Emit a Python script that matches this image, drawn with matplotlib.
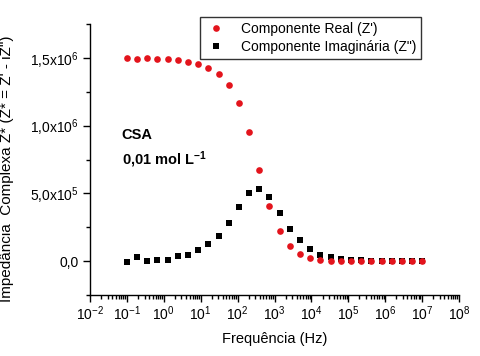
import numpy as np
import matplotlib
matplotlib.use('Agg')
import matplotlib.pyplot as plt
from matplotlib.ticker import FixedLocator, MultipleLocator, LogLocator, NullFormatter

plt.rcParams['font.family'] = ['Liberation Sans', 'DejaVu Sans']
plt.rcParams['mathtext.fontset'] = 'custom'
plt.rcParams['mathtext.rm'] = 'Liberation Sans'
plt.rcParams['mathtext.it'] = 'Liberation Sans:italic'
plt.rcParams['mathtext.bf'] = 'Liberation Sans:bold'

# frequencias (Hz)
freq = [0.1, 0.189, 0.357, 0.673, 1.27, 2.40, 4.53, 8.55, 16.1, 30.5,
        57.5, 108.6, 205, 387, 731, 1380, 2605, 4918, 9284, 17530,
        33090, 62470, 117900, 222700, 420400, 793700, 1.498e6, 2.83e6, 5.34e6, 1.0e7]

# Z' (componente real)
z_real = [1.499e6, 1.494e6, 1.496e6, 1.491e6, 1.491e6, 1.484e6, 1.467e6, 1.454e6, 1.425e6, 1.380e6,
          1.301e6, 1.165e6, 0.950e6, 0.674e6, 0.410e6, 0.222e6, 0.111e6, 52000, 22000, 10000,
          3000, 1000, 500, 0, 0, 0, 0, 0, 0, 0]

# Z'' (componente imaginaria)
z_imag = [-10000, 27000, 0, 5000, 12000, 35000, 44000, 79000, 126000, 183000,
          279000, 398000, 501000, 531000, 472000, 353000, 235000, 153000, 91000, 47000,
          28000, 18000, 6000, 6000, 3000, 0, 0, 0, 0, 0]

yticks = [0, 5e5, 1e6, 1.5e6]
ylabels = ['0,0', '5,0x10$^{5}$', '1,0x10$^{6}$', '1,5x10$^{6}$']

fig = plt.figure(figsize=(4.81, 3.56), dpi=100)
ax = fig.add_axes([0.1871, 0.1713, 0.9543 - 0.1871, 0.9326 - 0.1713])

ax.plot(freq, z_real, 'o', color='#e3141c', markersize=4.8, markeredgewidth=0,
        label="Componente Real (Z')", zorder=3)
ax.plot(freq, z_imag, 's', color='black', markersize=4.5, markeredgewidth=0,
        label='Componente Imaginária (Z")', zorder=2)

ax.set_xscale('log')
ax.set_xlim(1e-2, 1e8)
ax.set_ylim(-2.5e5, 1.75e6)
ax.xaxis.set_major_locator(LogLocator(base=10, numticks=20))
ax.xaxis.set_minor_locator(LogLocator(base=10, subs=np.arange(2, 10), numticks=20))
ax.xaxis.set_minor_formatter(NullFormatter())
ax.yaxis.set_major_locator(FixedLocator(yticks))
ax.set_yticklabels(ylabels)
ax.yaxis.set_minor_locator(MultipleLocator(2.5e5))

for s in ['top', 'right']:
    ax.spines[s].set_visible(False)
ax.spines['left'].set_linewidth(1.0)
ax.spines['bottom'].set_linewidth(1.0)
ax.tick_params(which='major', direction='out', length=5, width=1, labelsize=10, colors='black')
ax.tick_params(which='minor', direction='out', length=3, width=1)
ax.tick_params(axis='x', pad=2)
ax.tick_params(axis='y', pad=3)

ax.set_xlabel('Frequência (Hz)', fontsize=10.5, labelpad=6)
ax.set_ylabel('Impedância  Complexa Z* (Z* = Z\' - iZ")', fontsize=11)
ax.yaxis.set_label_coords(-0.205, 0.465)

ax.text(0.0858, 0.59, 'CSA', transform=ax.transAxes, fontsize=10.5, fontweight='bold',
        va='center', ha='left')
ax.text(0.0858, 0.50, r'0,01 mol L$^{\mathbf{-1}}$', transform=ax.transAxes, fontsize=10.5,
        fontweight='bold', va='center', ha='left')

leg = ax.legend(loc='upper left', bbox_to_anchor=(0.298, 1.026), fontsize=10,
                frameon=True, fancybox=False, edgecolor='black', borderpad=0.35,
                borderaxespad=0, handletextpad=1.0, labelspacing=0.3, handlelength=1.6)
leg.get_frame().set_linewidth(1.0)

fig.savefig('out.png', dpi=100)
